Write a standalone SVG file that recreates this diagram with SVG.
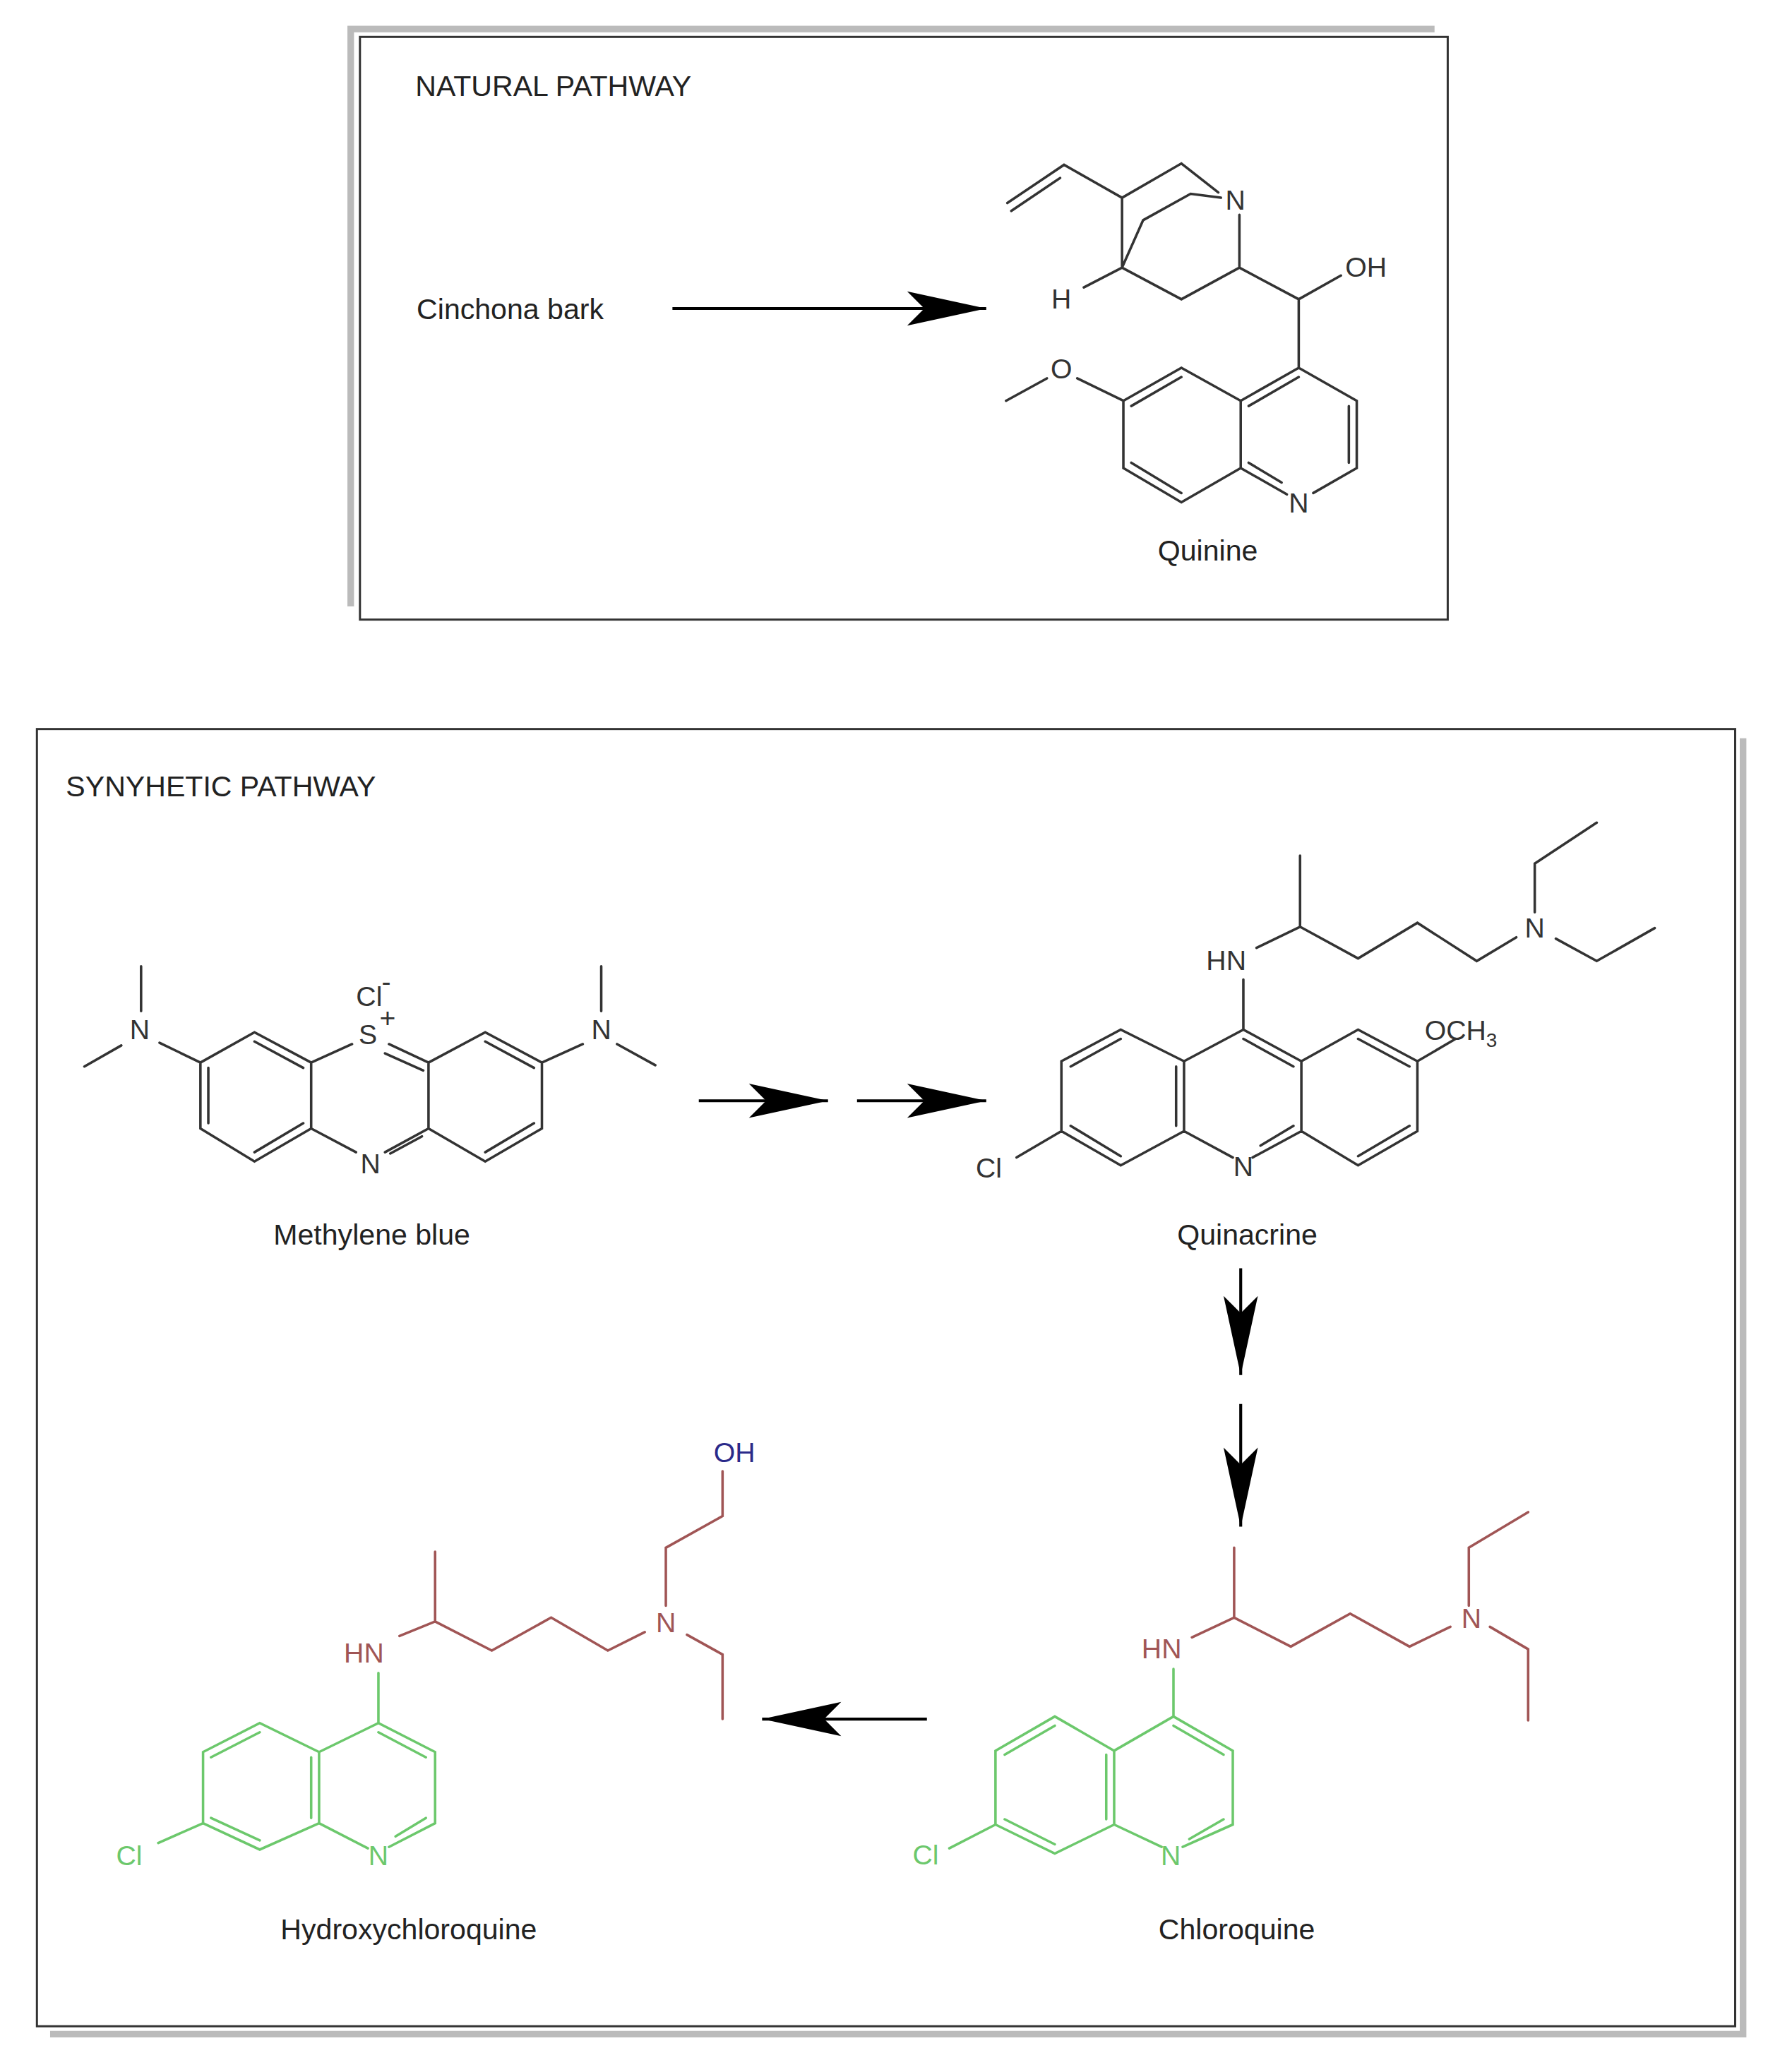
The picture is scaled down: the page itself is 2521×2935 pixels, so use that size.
<svg xmlns="http://www.w3.org/2000/svg" width="2521" height="2935" viewBox="0 0 2521 2935">
<style>
.b{stroke:#333;stroke-width:1.9;fill:none;stroke-linecap:round}
.g{stroke:#6cc86c;stroke-width:1.9;fill:none;stroke-linecap:round}
.r{stroke:#a05555;stroke-width:1.9;fill:none;stroke-linecap:round}
.a{font-family:"Liberation Sans",Arial,sans-serif;font-size:21px;text-anchor:middle;fill:#333}
.t{font-family:"Liberation Sans",Arial,sans-serif;font-size:22px;fill:#222}
.n{font-family:"Liberation Sans",Arial,sans-serif;font-size:22px;fill:#222;text-anchor:middle}
.ga{fill:#6cc86c}
.ra{fill:#a05555}
.ba{fill:#2a2a8a}
.arr{stroke:#000;stroke-width:2.2;fill:none;marker-end:url(#ah)}
</style>
<defs>
<marker id="ah" markerUnits="userSpaceOnUse" markerWidth="70" markerHeight="30" viewBox="-62 -15 64 30" refX="0" refY="0" orient="auto">
<path d="M0,0 L-60,-13 L-47,0 L-60,13 Z" fill="#000"/>
</marker>
</defs>
<rect width="2521" height="2935" fill="#fff"/>
<g transform="scale(1.8674)">
<g id="boxes">
<path d="M266,460 V22 H1088" stroke="#bbb" stroke-width="5" fill="none"/>
<rect x="273" y="28" width="825" height="442" fill="none" stroke="#333" stroke-width="1.6"/>
<path d="M1322,560 V1543 H38" stroke="#bbb" stroke-width="5" fill="none"/>
<rect x="28" y="553" width="1288" height="984" fill="none" stroke="#333" stroke-width="1.6"/>
<text class="t" x="315" y="73">NATURAL PATHWAY</text>
<text class="t" x="50" y="604">SYNYHETIC PATHWAY</text>
</g>
<g id="cinchona"><text class="t" x="316" y="242" font-size="23">Cinchona bark</text></g>
<g id="quinine">
<path class="b" d="M764,154 L807,125 L851,150 L896,124 L924,146 M767,160 L804,135 M851,150 V203 L867,167 L903,147 L926,150 M851,203 L822,218 M851,203 L896,227 L940,203 V163 M940,203 L985,227 L1017,209 M985,227 V279 L1029,304 V355 L996,374 M976,375 L941,355 V304 L985,279 M941,304 L896,279 L852,304 V355 L896,381 L941,355 M985,286 L947,308 M1023,308 V351 M947,351 L972,366 M896,286 L858,308 M858,351 L896,374 M852,304 L817,287 M794,287 L763,304"/>
<text class="a" x="937" y="159">N</text>
<text class="a" x="805" y="234">H</text>
<text class="a" x="1036" y="210">OH</text>
<text class="a" x="985" y="389">N</text>
<text class="a" x="805" y="287">O</text>
<text class="n" x="916" y="425">Quinine</text>
</g>
<g id="methylene_blue">
<path class="b" d="M107,733 V767 M64,809 L92,793 M121,791 L152,806 M152,806 L193,783 L236,806 V856 L193,881 L152,856 Z M193,790 L230,810 M158,810 V852 M193,874 L230,852 M236,806 L267,792 M295,792 L325,806 M292,799 L321,812 M325,806 L368,783 L411,806 V856 L368,881 L325,856 Z M368,790 L405,810 M405,852 L368,874 M236,856 L270,874 M325,856 L292,874 M320,862 L296,875 M411,806 L442,792 M456,733 V767 M468,792 L497,808"/>
<text class="a" x="279" y="792">S</text>
<text class="a" x="294" y="779" font-size="13">+</text>
<text class="a" x="106" y="788">N</text>
<text class="a" x="280" y="763">Cl</text>
<text class="a" x="293" y="752" font-size="13">-</text>
<text class="a" x="281" y="890">N</text>
<text class="a" x="456" y="788">N</text>
<text class="n" x="282" y="944">Methylene blue</text>
</g>
<g id="quinacrine">
<path class="b" d="M771,878 L805,858 M805,858 V805 L850,781 L898,805 V858 L850,884 Z M812,809 L850,788 M812,854 L850,877 M892,809 V854 M898,805 L943,781 L987,805 V858 L950,878 M935,878 L898,858 M943,788 L981,809 M981,854 L956,869 M987,805 L1030,781 L1075,805 V858 L1030,884 L987,858 M1030,788 L1069,809 M1069,854 L1030,877 M1075,805 L1104,788 M943,781 V743 M953,719 L986,703 V649 M986,703 L1030,727 L1075,700 L1120,729 L1150,711 M1164,692 V655 L1211,624 M1180,712 L1211,729 L1255,704"/>
<text class="a" x="750" y="893">Cl</text>
<text class="a" x="943" y="892">N</text>
<text class="a" x="930" y="736">HN</text>
<text class="a" x="1164" y="711">N</text>
<text class="a" x="1108" y="789" text-anchor="start">OCH<tspan font-size="15" dy="5">3</tspan></text>
<text class="n" x="946" y="944">Quinacrine</text>
</g>
<g id="hydroxychloroquine">
<path class="g" d="M120,1398 L154,1383 M154,1383 V1329 L197,1307 L242,1329 V1383 L197,1403 Z M160,1333 L197,1314 M160,1379 L197,1396 M236,1333 V1379 M242,1329 L287,1307 L330,1329 V1383 L295,1401 M279,1402 L242,1383 M287,1314 L323,1333 M323,1379 L300,1393 M287,1307 V1269"/>
<path class="r" d="M303,1241 L330,1230 V1177 M330,1230 L373,1252 L418,1227 L461,1252 L489,1238 M505,1218 V1174 L548,1150 V1116 M521,1240 L548,1255 V1304"/>
<text class="a ga" x="98" y="1415">Cl</text>
<text class="a ga" x="287" y="1415">N</text>
<text class="a ra" x="276" y="1261">HN</text>
<text class="a ra" x="505" y="1238">N</text>
<text class="a ba" x="557" y="1109">OH</text>
<text class="n" x="310" y="1471">Hydroxychloroquine</text>
</g>
<g id="chloroquine">
<path class="g" d="M720,1402 L755,1384 M755,1384 V1328 L800,1302 L845,1328 V1384 L800,1406 Z M762,1331 L800,1309 M762,1380 L800,1399 M839,1331 V1380 M845,1328 L890,1302 L935,1328 V1384 L897,1401 M881,1401 L845,1384 M890,1309 L928,1331 M928,1380 L902,1395 M890,1302 V1266"/>
<path class="r" d="M904,1242 L936,1227 V1174 M936,1227 L979,1249 L1024,1224 L1069,1249 L1100,1234 M1114,1218 V1174 L1159,1147 M1130,1234 L1159,1251 V1305"/>
<text class="a ga" x="702" y="1414">Cl</text>
<text class="a ga" x="888" y="1415">N</text>
<text class="a ra" x="881" y="1258">HN</text>
<text class="a ra" x="1116" y="1235">N</text>
<text class="n" x="938" y="1471">Chloroquine</text>
</g>
<g id="connectors">
<line class="arr" x1="510" y1="234" x2="748" y2="234"/>
<line class="arr" x1="530" y1="835" x2="628" y2="835"/>
<line class="arr" x1="650" y1="835" x2="748" y2="835"/>
<line class="arr" x1="941" y1="962" x2="941" y2="1043"/>
<line class="arr" x1="941" y1="1065" x2="941" y2="1158"/>
<line class="arr" x1="703" y1="1304" x2="578" y2="1304"/>
</g>
</g>
</svg>
